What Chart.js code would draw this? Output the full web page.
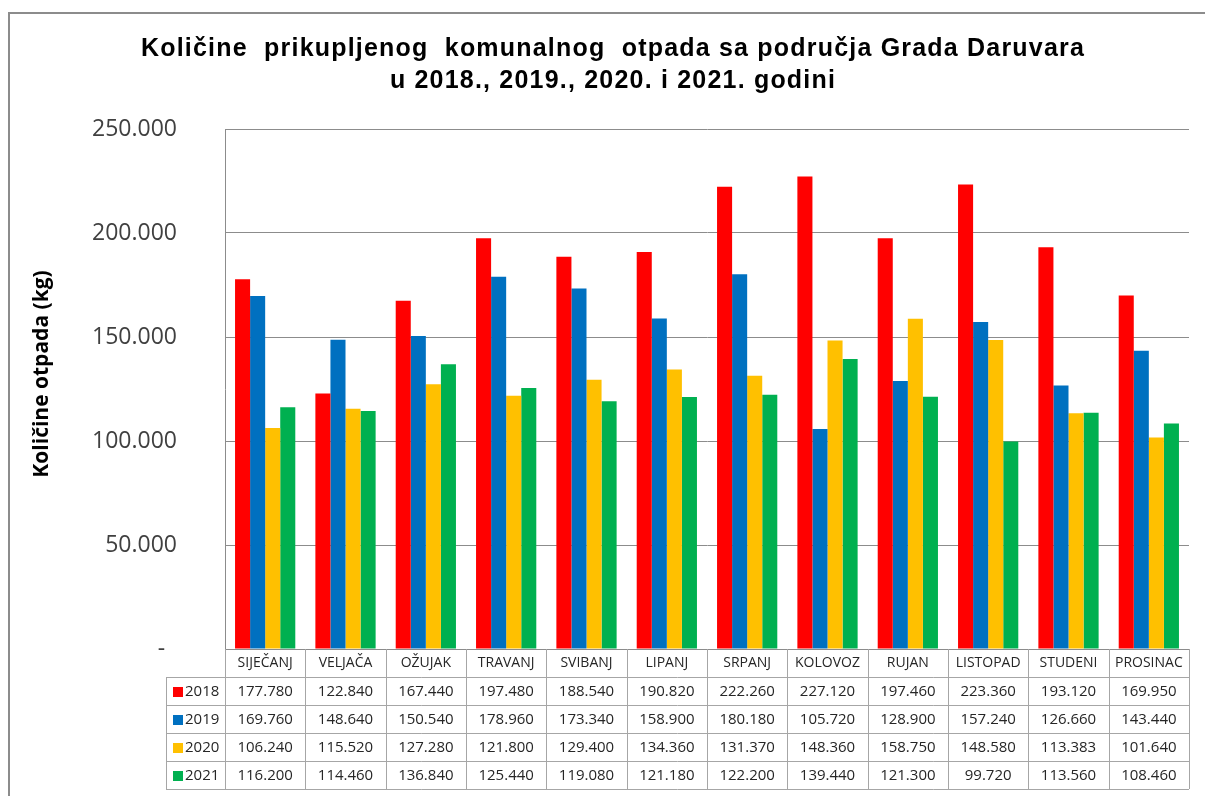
<!DOCTYPE html>
<html>
<head>
<meta charset="utf-8">
<script src="https://cdn.jsdelivr.net/npm/chart.js@4.4.1/dist/chart.umd.min.js"></script>
<style>
  html, body { margin: 0; padding: 0; background: #fff; }
  #wrap { width: 1205px; height: 796px; }
</style>
</head>
<body>
<div id="wrap"><canvas id="wasteChart" width="1205" height="796"></canvas></div>
<script>
// ===== DATA =====
const months = ["SIJEČANJ", "VELJAČA", "OŽUJAK", "TRAVANJ", "SVIBANJ", "LIPANJ",
  "SRPANJ", "KOLOVOZ", "RUJAN", "LISTOPAD", "STUDENI", "PROSINAC"];
const years = ["2018", "2019", "2020", "2021"];
const values2018 = [177780, 122840, 167440, 197480, 188540, 190820, 222260, 227120, 197460, 223360, 193120, 169950];
const values2019 = [169760, 148640, 150540, 178960, 173340, 158900, 180180, 105720, 128900, 157240, 126660, 143440];
const values2020 = [106240, 115520, 127280, 121800, 129400, 134360, 131370, 148360, 158750, 148580, 113383, 101640];
const values2021 = [116200, 114460, 136840, 125440, 119080, 121180, 122200, 139440, 121300, 99720, 113560, 108460];
const yearColors = ["#FF0000", "#0070C0", "#FFC000", "#00B050"];
const titleLines = ["Količine  prikupljenog  komunalnog  otpada sa područja Grada Daruvara",
  "u 2018., 2019., 2020. i 2021. godini"];
const yTitle = "Količine otpada (kg)";

const seriesValues = [values2018, values2019, values2020, values2021];

// thousands separator "." like the original (zero shown as a dash, accounting style)
function fmt(v) {
  return v.toString().replace(/\B(?=(\d{3})+(?!\d))/g, ".");
}

// ===== FRAME + TITLE + TABLE PLUGIN =====
const decorPlugin = {
  id: "decor",
  beforeDraw(chart) {
    const ctx = chart.ctx;
    ctx.save();
    ctx.fillStyle = "#fff";
    ctx.fillRect(0, 0, chart.width, chart.height);
    // outer chart frame
    ctx.strokeStyle = "#8c8c8c";
    ctx.lineWidth = 2;
    ctx.beginPath();
    ctx.moveTo(9, chart.height);
    ctx.lineTo(9, 13);
    ctx.lineTo(chart.width, 13);
    ctx.stroke();
    ctx.restore();
  },
  afterDraw(chart) {
    const ctx = chart.ctx;
    const area = chart.chartArea;
    const x = chart.scales.x;
    ctx.save();

    // --- title ---
    ctx.fillStyle = "#000";
    ctx.textAlign = "center";
    ctx.textBaseline = "middle";
    ctx.font = "bold 25px 'Liberation Sans', Arial, sans-serif";
    ctx.letterSpacing = "1.2px";
    ctx.fillText(titleLines[0], 613, 49);
    ctx.fillText(titleLines[1], 613, 81);
    ctx.letterSpacing = "0px";

    // --- y axis title ---
    ctx.save();
    ctx.translate(42, 374);
    ctx.rotate(-Math.PI / 2);
    ctx.font = "bold 21px 'Open Sans', sans-serif";
    ctx.fillText(yTitle, 0, 0);
    ctx.restore();

    // --- data table ---
    const top = area.bottom;
    const headH = 28;
    const rowH = 28;
    const legendLeft = 166;
    const colW = (area.right - area.left) / months.length;
    const tableBottom = top + headH + rowH * years.length;

    ctx.strokeStyle = "#a6a6a6";
    ctx.lineWidth = 1;
    ctx.beginPath();
    // vertical column lines
    for (let i = 0; i <= months.length; i++) {
      const px = Math.round(area.left + i * colW) + 0.5;
      ctx.moveTo(px, top);
      ctx.lineTo(px, tableBottom);
    }
    // legend column left edge
    ctx.moveTo(legendLeft + 0.5, top + headH);
    ctx.lineTo(legendLeft + 0.5, tableBottom);
    // horizontal row lines
    for (let r = 0; r <= years.length; r++) {
      const py = top + headH + r * rowH + 0.5;
      ctx.moveTo(legendLeft, py);
      ctx.lineTo(area.right, py);
    }
    ctx.stroke();

    ctx.fillStyle = "#262626";
    ctx.textAlign = "center";
    ctx.font = "14px 'Open Sans', sans-serif";
    months.forEach((m, i) => {
      ctx.fillText(m, x.getPixelForValue(i), top + headH / 2);
    });

    ctx.font = "15px 'Open Sans', sans-serif";
    seriesValues.forEach((vals, r) => {
      const cy = top + headH + r * rowH + rowH / 2 + 1;
      vals.forEach((v, i) => {
        ctx.fillText(fmt(v), x.getPixelForValue(i), cy);
      });
      // legend key
      ctx.fillStyle = yearColors[r];
      ctx.fillRect(173, cy - 5, 10, 10);
      ctx.fillStyle = "#262626";
      ctx.textAlign = "left";
      ctx.fillText(years[r], 185, cy);
      ctx.textAlign = "center";
    });

    ctx.restore();
  },
};

// ===== CHART =====
const ctx = document.getElementById("wasteChart").getContext("2d");
new Chart(ctx, {
  type: "bar",
  data: {
    labels: months,
    datasets: years.map((y, i) => ({
      label: y,
      data: seriesValues[i],
      backgroundColor: yearColors[i],
      borderWidth: 0,
      categoryPercentage: 0.75,
      barPercentage: 1.0,
    })),
  },
  options: {
    responsive: false,
    devicePixelRatio: 1,
    animation: false,
    layout: { padding: { left: 0, top: 129, right: 16, bottom: 147 } },
    plugins: {
      legend: { display: false },
      title: { display: false },
      tooltip: { enabled: false },
    },
    scales: {
      x: { display: false },
      y: {
        min: 0,
        max: 250000,
        afterFit(scale) { scale.width = 225; },
        ticks: {
          stepSize: 50000,
          padding: 48,
          color: "#404040",
          font: { family: "'Open Sans', sans-serif", size: 23 },
          callback: (v) => (v === 0 ? "-  " : fmt(v)),
        },
        grid: { color: "#8c8c8c", drawTicks: false, lineWidth: 1 },
        border: { color: "#8c8c8c", width: 1 },
      },
    },
  },
  plugins: [decorPlugin],
});
</script>
</body>
</html>
